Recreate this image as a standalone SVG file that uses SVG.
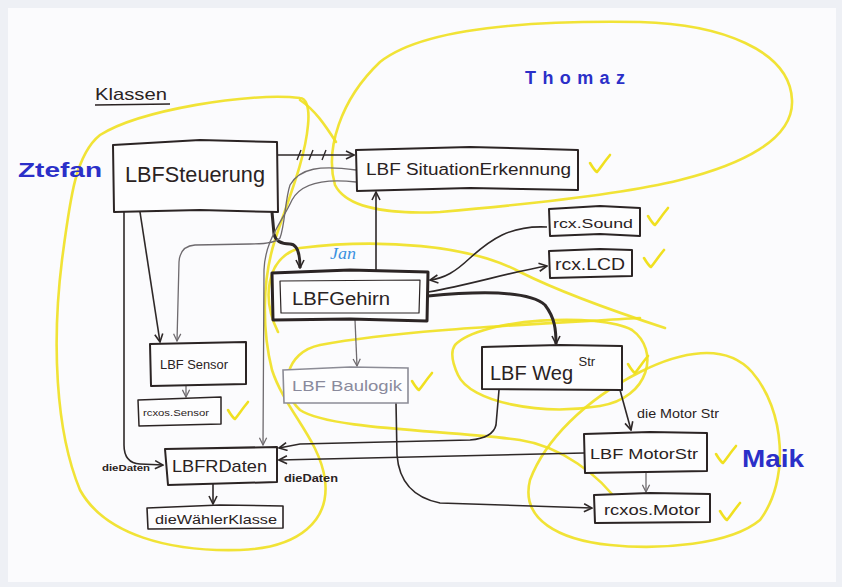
<svg xmlns="http://www.w3.org/2000/svg" width="842" height="587" viewBox="0 0 842 587">
<style>
.box{fill:#fdfdfe;stroke:#2b2424;stroke-width:2;stroke-linejoin:round}
.gbox{fill:#fdfdfe;stroke:#8c8c96;stroke-width:1.6}
.t{font-family:"Liberation Sans","DejaVu Sans",sans-serif;fill:#2a2222}
.gt{font-family:"Liberation Sans","DejaVu Sans",sans-serif;fill:#8a8a9c}
.name{font-family:"Liberation Sans","DejaVu Sans",sans-serif;font-weight:bold;fill:#2b2fc8}
.c{fill:none;stroke:#2e2828;stroke-width:1.6;marker-end:url(#arr)}
.cg{fill:none;stroke:#6e6a6e;stroke-width:1.3;marker-end:url(#arrg)}
.ck{fill:none;stroke:#2e2828;stroke-width:3;marker-end:url(#arr)}
.y{fill:none;stroke:#f0e020;stroke-width:2.6;stroke-linecap:round;opacity:.9}
.chk{fill:none;stroke:#f0e020;stroke-width:2.6;stroke-linecap:round;stroke-linejoin:round}
</style>
<defs>
<marker id="arr" viewBox="0 0 10 10" refX="9" refY="5" markerWidth="10" markerHeight="10" markerUnits="userSpaceOnUse" orient="auto">
<path d="M1,1 L9,5 L1,9" fill="none" stroke="#2e2828" stroke-width="1.6"/>
</marker>
<marker id="arrg" viewBox="0 0 10 10" refX="9" refY="5" markerWidth="9" markerHeight="9" markerUnits="userSpaceOnUse" orient="auto">
<path d="M1,1 L9,5 L1,9" fill="none" stroke="#6e6a6e" stroke-width="1.4"/>
</marker>
<path id="check" d="M0,0 C3,5 5,8 7,9 C11,4 15,-2 20,-8"/>
</defs>
<rect width="842" height="587" fill="#eef0f5"/>
<rect x="8" y="8" width="828" height="574" fill="#fbfbfd"/>

<g id="annotations">
<path class="y" d="M300,98 C250,92 140,110 100,135 C75,155 70,200 62,260 C52,340 55,430 80,490 C105,535 170,552 240,550 C300,548 330,520 325,480 C320,440 285,410 272,370 C262,330 262,280 275,240 C288,200 305,160 308,125 C310,105 305,98 300,98 Z"/>
<path class="y" d="M335,185 C325,150 340,100 380,62 C420,30 520,20 640,22 C720,24 790,50 792,100 C794,140 740,165 680,180 C620,195 520,205 440,212 C380,215 345,205 335,185 Z"/>
<path class="y" d="M300,100 C315,110 325,125 336,142"/>
<path class="y" d="M278,332 C262,300 265,258 300,248 C380,238 470,245 520,272 C560,292 610,310 665,328"/>
<path class="y" d="M640,318 C520,325 400,330 320,345 C285,352 278,390 300,410 C330,430 450,430 520,440 C560,446 600,475 620,505"/>
<path class="y" d="M455,345 C480,318 600,312 632,330 C660,350 650,398 600,406 C540,416 470,402 458,375 C452,362 450,352 455,345 Z"/>
<path class="y" d="M530,480 C545,440 585,400 640,372 C680,352 725,342 752,372 C785,410 790,480 760,520 C730,545 660,550 610,545 C560,540 520,520 530,480 Z"/>
<use href="#check" class="chk" x="590" y="163"/>
<use href="#check" class="chk" x="648" y="216"/>
<use href="#check" class="chk" x="644" y="258"/>
<use href="#check" class="chk" x="228" y="410"/>
<use href="#check" class="chk" x="412" y="381"/>
<use href="#check" class="chk" x="628" y="364"/>
<use href="#check" class="chk" x="716" y="454"/>
<use href="#check" class="chk" x="720" y="511"/>
</g>

<g id="connectors">
<path class="c" d="M278,155 L354,155"/>
<path d="M297,160 L301,150 M309,160 L313,150 M322,160 L326,150" stroke="#2e2828" stroke-width="1.4" fill="none"/>
<path class="c" d="M140,212 L160,342"/>
<path class="c" d="M124,212 L124,445 Q124,463 140,464 L163,465"/>
<path class="ck" d="M272,212 L274,234 Q276,244 290,244 Q300,244 300,268"/>
<path class="cg" d="M356,182 C320,178 300,185 292,200 C282,222 265,240 264,270 L263,445"/>
<path class="cg" d="M356,170 C320,165 300,168 290,185 C285,200 285,225 280,238 Q275,244 250,244 L195,245 Q180,246 179,262 L177,341"/>
<path class="c" d="M376,272 L376,192"/>
<path class="c" d="M547,227 C510,225 490,240 470,258 C455,272 445,278 430,280"/>
<path class="c" d="M428,292 C470,285 510,272 547,266"/>
<path class="ck" d="M428,296 C480,291 530,291 545,305 C555,318 556,330 556,344"/>
<path class="cg" d="M355,320 L357,366"/>
<path class="cg" d="M186,385 L186,397"/>
<path class="c" d="M620,390 L631,430"/>
<path class="c" d="M499,390 L496,425 Q493,438 470,440 L300,444 L279,448"/>
<path class="c" d="M584,453 L279,460"/>
<path class="c" d="M396,403 L397,455 Q400,495 440,503 L592,508"/>
<path class="cg" d="M646,472 L646,492"/>
<path class="c" d="M213,484 L213,504"/>
</g>

<g id="LBFSteuerung">
<polygon class="box" points="113,145 200,140 277,142 278,212 200,210 114,212"/>
<text class="t" x="125" y="182" font-size="22" textLength="140" lengthAdjust="spacingAndGlyphs">LBFSteuerung</text>
</g>
<g id="LBFSituationErkennung">
<polygon class="box" points="356,150 470,147 578,150 578,190 470,188 357,191"/>
<text class="t" x="366" y="175" font-size="16" textLength="205" lengthAdjust="spacingAndGlyphs">LBF SituationErkennung</text>
</g>
<g id="rcxSound">
<polygon class="box" points="549,209 600,206 640,208 640,236 600,234 550,236"/>
<text class="t" x="553" y="228" font-size="13" textLength="80" lengthAdjust="spacingAndGlyphs">rcx.Sound</text>
</g>
<g id="rcxLCD">
<polygon class="box" points="549,251 600,249 632,250 632,276 590,277 550,278"/>
<text class="t" x="555" y="270" font-size="16" textLength="70" lengthAdjust="spacingAndGlyphs">rcx.LCD</text>
</g>
<g id="LBFGehirn">
<polygon class="box" style="stroke-width:3" points="272,273 350,270 428,272 427,321 350,319 273,320"/>
<polygon class="box" style="stroke-width:1.2" points="280,281 420,280 419,313 281,313"/>
<text class="t" x="292" y="305" font-size="18" textLength="98" lengthAdjust="spacingAndGlyphs">LBFGehirn</text>
</g>
<g id="LBFSensor">
<polygon class="box" points="150,344 246,342 246,384 151,386"/>
<text class="t" x="160" y="369" font-size="12" textLength="68" lengthAdjust="spacingAndGlyphs">LBF Sensor</text>
</g>
<g id="rcxosSensor">
<polygon class="box" style="stroke-width:1.5" points="138,400 221,397 221,424 139,426"/>
<text class="t" x="143" y="416" font-size="9" textLength="66" lengthAdjust="spacingAndGlyphs">rcxos.Sensor</text>
</g>
<g id="LBFBaulogik">
<polygon class="gbox" points="283,370 350,367 408,368 408,403 284,403"/>
<text class="gt" x="292" y="391" font-size="15" textLength="110" lengthAdjust="spacingAndGlyphs">LBF Baulogik</text>
</g>
<g id="LBFWegStr">
<polygon class="box" points="482,347 560,345 622,346 622,390 482,389"/>
<text class="t" x="490" y="380" font-size="20">LBF Weg <tspan font-size="13" dy="-14">Str</tspan></text>
</g>
<g id="LBFMotorStr">
<polygon class="box" points="584,434 650,432 707,433 707,471 585,473"/>
<text class="t" x="590" y="459" font-size="15" textLength="108" lengthAdjust="spacingAndGlyphs">LBF MotorStr</text>
</g>
<g id="rcxosMotor">
<polygon class="box" points="594,495 650,493 710,494 710,522 595,523"/>
<text class="t" x="604" y="515" font-size="14" textLength="96" lengthAdjust="spacingAndGlyphs">rcxos.Motor</text>
</g>
<g id="LBFRDaten">
<polygon class="box" points="165,449 277,447 277,482 168,485"/>
<text class="t" x="172" y="472" font-size="17" textLength="95" lengthAdjust="spacingAndGlyphs">LBFRDaten</text>
</g>
<g id="dieWaehlerKlasse">
<polygon class="box" style="stroke-width:1.6" points="147,508 220,505 283,506 283,528 148,529"/>
<text class="t" x="155" y="524" font-size="13" textLength="122" lengthAdjust="spacingAndGlyphs">dieWählerKlasse</text>
</g>

<g id="labels">
<text class="t" x="95" y="100" font-size="17" textLength="72" lengthAdjust="spacingAndGlyphs">Klassen</text>
<line x1="95" y1="105" x2="170" y2="104" stroke="#2a2222" stroke-width="1.6"/>
<text class="t" x="102" y="471" font-size="9" font-weight="bold" textLength="48" lengthAdjust="spacingAndGlyphs">dieDaten</text>
<text class="t" x="284" y="482" font-size="10" font-weight="bold" textLength="54" lengthAdjust="spacingAndGlyphs">dieDaten</text>
<text class="t" x="637" y="418" font-size="13" textLength="82" lengthAdjust="spacingAndGlyphs">die Motor Str</text>
<text class="name" x="18" y="177" font-size="20" textLength="84" lengthAdjust="spacingAndGlyphs">Ztefan</text>
<text class="name" x="525" y="84" font-size="18" textLength="100" lengthAdjust="spacing">Thomaz</text>
<text class="name" x="742" y="467" font-size="24" textLength="62" lengthAdjust="spacingAndGlyphs">Maik</text>
<text x="330" y="259" font-size="16" font-style="italic" font-family="Liberation Serif, serif" fill="#3a90e0" textLength="26" lengthAdjust="spacingAndGlyphs">Jan</text>
</g>
</svg>
